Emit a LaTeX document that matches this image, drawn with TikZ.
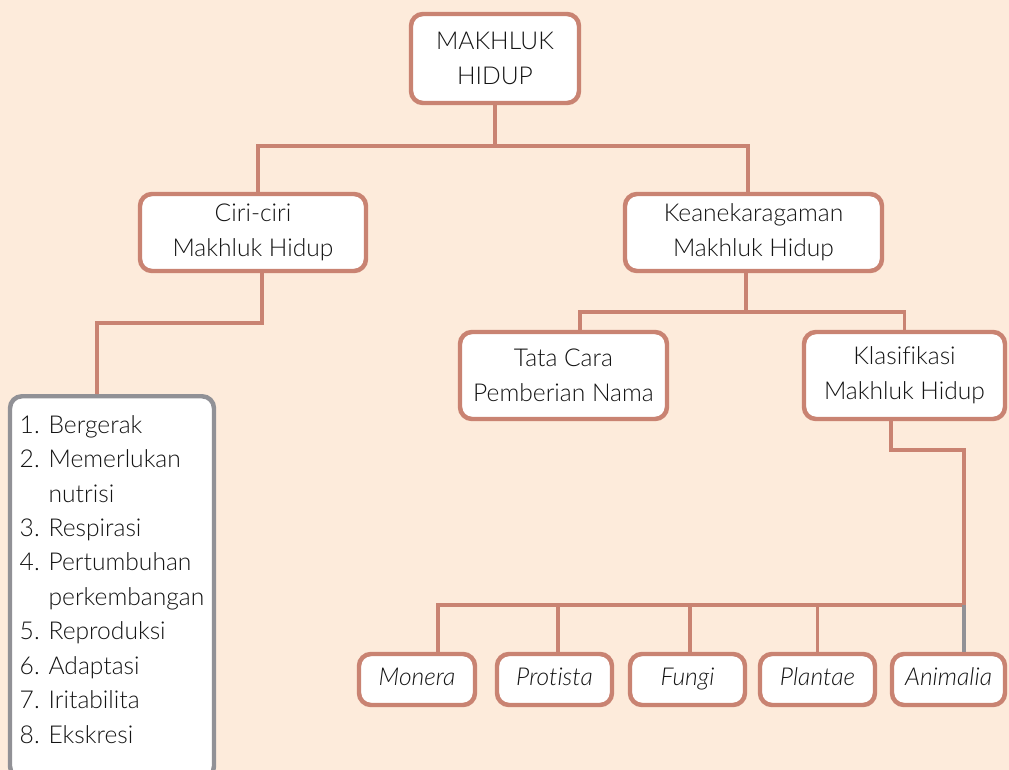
\documentclass[tikz,border=0pt]{standalone}
\usepackage{fontspec}
\setmainfont{Lato Light}[Ligatures=NoCommon]
\usetikzlibrary{positioning}
\definecolor{latar}{RGB}{253,235,219}
\definecolor{garis}{RGB}{201,131,114}
\definecolor{abu}{RGB}{145,145,150}
\definecolor{tinta}{RGB}{20,20,20}

\begin{document}
\begin{tikzpicture}[x=0.015cm, y=-0.015cm,
  kotak/.style={draw=garis, line width=1.9pt, fill=white, rounded corners=0.18cm,
    inner sep=0pt, align=center, text=tinta,
    font=\fontsize{10.5}{14.9}\selectfont},
  kotakbawah/.style={kotak, minimum height=0.765cm, text height=0.72em, text depth=0.22em,
    font=\fontsize{10.5}{14.9}\selectfont\itshape},
  daftar/.style={kotak, draw=abu, align=left, font=\fontsize{10.5}{14.7}\selectfont},
  link/.style={draw=garis, line width=1.5pt},
  linkabu/.style={draw=abu, line width=1.5pt}]

  % --- 1. latar belakang ---
  \fill[latar] (0,0) rectangle (1009,770);
  \useasboundingbox (0,0) rectangle (1009,770);
  \clip (0,0) rectangle (1009,770);

  % --- 2. kotak-kotak ---
  \node[kotak, minimum width=2.52cm, minimum height=1.335cm] (top) at (495,58.5) {MAKHLUK\\HIDUP};
  \node[kotak, minimum width=3.39cm, minimum height=1.155cm] (ciri) at (253,232.5) {Ciri-ciri\\Makhluk Hidup};
  \node[kotak, minimum width=3.855cm, minimum height=1.155cm] (keane) at (753.5,232.5) {Keanekaragaman\\Makhluk Hidup};
  \node[kotak, minimum width=3.105cm, minimum height=1.305cm] (tata) at (563.5,375.5) {Tata Cara\\Pemberian Nama};
  \node[kotak, minimum width=3.015cm, minimum height=1.305cm] (klas) at (904.5,375.5) {Klasifikasi\\Makhluk Hidup};

  % daftar ciri-ciri (terpotong di bawah)
  \node[daftar, anchor=north, minimum width=3.06cm, minimum height=5.73cm] (list) at (112,394) {%
    \begin{tabular}{@{}l@{\hspace{0.36em}}l@{}}
      1. & Bergerak\\
      2. & Memerlukan\\
         & nutrisi\\
      3. & Respirasi\\
      4. & Pertumbuhan\\
         & perkembangan\\
      5. & Reproduksi\\
      6. & Adaptasi\\
      7. & Iritabilita\\
      8. & Ekskresi\rule[-0.335cm]{0pt}{0.335cm}
    \end{tabular}};

  % lima kingdom
  \node[kotakbawah, minimum width=1.74cm]  (monera)   at (417,679.5)   {Monera};
  \node[kotakbawah, minimum width=1.725cm] (protista) at (554.5,679.5) {Protista};
  \node[kotakbawah, minimum width=1.725cm] (fungi)    at (687.5,679.5) {Fungi};
  \node[kotakbawah, minimum width=1.725cm] (plantae)  at (817.5,679.5) {Plantae};
  \node[kotakbawah, minimum width=1.695cm] (animalia) at (948.5,679.5) {Animalia};

  % --- 3. titik cabang ---
  \coordinate (j1) at (495,146);
  \coordinate (j2) at (97,323);
  \coordinate (j3) at (746,312);
  \coordinate (j4) at (964,450);
  \coordinate (j5) at (964,605);

  % --- 4. garis penghubung ---
  \draw[link] (top.south) -- (j1);
  \draw[link] ([xshift=0.075cm]ciri.north) |- (j1) -| ([xshift=-0.0825cm]keane.north);

  \draw[link] ([xshift=0.135cm]ciri.south) |- (j2) -- ([xshift=-0.225cm]list.north);

  \draw[link] ([xshift=-0.1125cm]keane.south) -- (j3);
  \draw[link] ([xshift=0.25cm]tata.north) |- (j3) -| (klas.north);

  \draw[link] ([xshift=-0.2cm]klas.south) |- (j4) -- (j5);
  \foreach \n/\s in {monera/0.315cm, protista/0.05cm, fungi/0.04cm, plantae/0cm}
    \draw[link] ([xshift=\s]\n.north) |- (j5);
  \draw[linkabu] (j5) -- ([xshift=0.2325cm]animalia.north);

\end{tikzpicture}
\end{document}
